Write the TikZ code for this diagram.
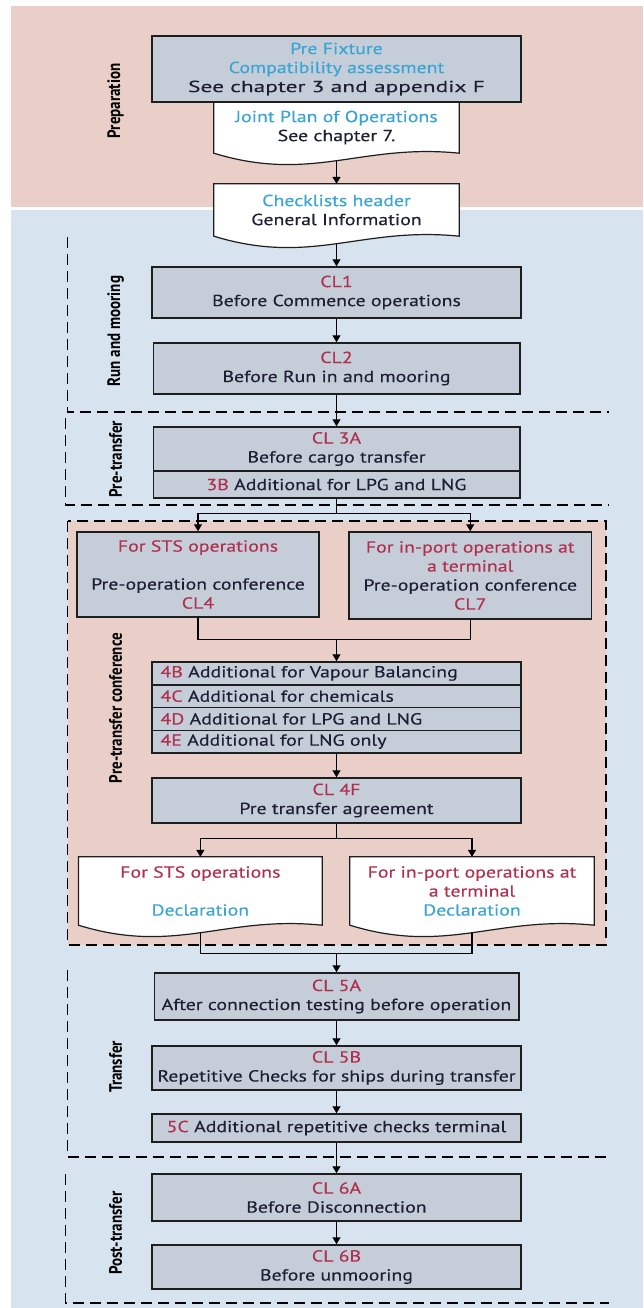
\documentclass[tikz,border=0pt]{standalone}
\usepackage{fontspec}
\usepackage{graphicx}
\setmainfont{PT Sans}[FakeStretch=1.24, FakeBold=0.3]
\newfontfamily\sidefont{PT Sans}
\usetikzlibrary{arrows.meta,calc}

\definecolor{pinkbg}{HTML}{E9CFC7}
\definecolor{bluebg}{HTML}{D7E3EE}
\definecolor{boxfill}{HTML}{C5CED8}
\definecolor{cyantxt}{HTML}{3AA5D5}
\definecolor{redtxt}{HTML}{B0304E}
\definecolor{darktxt}{HTML}{1E1E34}
\definecolor{edge}{HTML}{1E1E1E}

\newcommand\rd[1]{\textcolor{redtxt}{#1}}
\newcommand\cy[1]{\textcolor{cyantxt}{#1}}
\newcommand\sidetext[1]{\scalebox{1}[1.2]{#1}}

\pgfdeclarelayer{bg}
\pgfdeclarelayer{docs}
\pgfsetlayers{bg,docs,main}

% outline of a document symbol with a wavy lower edge around a node
\newcommand\docoutline[1]{%
  \path[docline] (#1.north west) -- (#1.north east) -- (#1.south east)
    .. controls ($(#1.south east)!0.4!(#1.south west)+(0,-10)$)
           and ($(#1.south west)!0.4!(#1.south east)+(0,30)$) .. (#1.south west) -- cycle;}

\tikzset{
  txt/.style={font=\fontsize{16}{19}\selectfont, text=darktxt},
  stepbox/.style={txt, draw=edge, line width=1.5pt, fill=boxfill, inner sep=0pt, align=center},
  addrow/.style={txt, draw=edge, line width=1.5pt, fill=boxfill, inner xsep=8.5pt, inner ysep=0pt,
                 align=left, text width=352pt, minimum height=22.75pt},
  docbox/.style={txt, inner sep=0pt, align=center},
  docline/.style={draw=edge, line width=1.2pt, fill=white},
  link/.style={line width=1.3pt, draw=black},
  arr/.style={link, -{Triangle[length=7pt,width=8pt]}},
  zone/.style={line width=1.7pt, dash pattern=on 11pt off 6pt},
  side/.style={rotate=90, text=black, font=\sidefont\bfseries\fontsize{15}{17}\selectfont},
}

\begin{document}
\begin{tikzpicture}[x=1pt,y=-1pt]
\useasboundingbox (0,0) rectangle (643,1308);

% ---- steps
\node[stepbox, minimum width=369pt, minimum height=66pt] (pre) at (336.5,69)
  {\cy{Pre Fixture}\\\cy{Compatibility assessment}\\\scalebox{1.18}[1]{See chapter 3 and appendix F}};
\node[docbox, minimum width=245pt, minimum height=51pt] (jp) at (336.5,127.5)
  {\cy{Joint Plan of Operations}\\See chapter 7.};
\node[docbox, minimum width=245pt, minimum height=52pt] (hdr) at (336.5,210)
  {\cy{Checklists header}\\General Information};
\node[stepbox, minimum width=369pt, minimum height=51pt] (cl1) at (336.5,292.5)
  {\rd{CL1}\\Before Commence operations};
\node[stepbox, minimum width=366.5pt, minimum height=51pt] (cl2) at (336.5,368.5)
  {\rd{CL2}\\Before Run in and mooring};
\node[stepbox, minimum width=366.5pt, minimum height=44pt] (cl3a) at (336.5,449)
  {\rd{CL 3A}\\Before cargo transfer};
\node[stepbox, minimum width=366.5pt, minimum height=27pt] (cl3b) at (336.5,484.5)
  {\rd{3B} Additional for LPG and LNG};

\node[stepbox, minimum width=242pt, minimum height=85pt] (sts) at (198,574.5)
  {\rd{For STS operations}\\\mbox{}\\Pre-operation conference\\\rd{CL4}};
\node[stepbox, minimum width=242.5pt, minimum height=87pt] (port) at (470.25,575.5)
  {\rd{For in-port operations at}\\\rd{a terminal}\\Pre-operation conference\\\rd{CL7}};

\node[addrow] (a4b) at (336.5,673.375) {\rd{4B} Additional for Vapour Balancing};
\node[addrow] (a4c) at (336.5,696.125) {\rd{4C} Additional for chemicals};
\node[addrow] (a4d) at (336.5,718.875) {\rd{4D} Additional for LPG and LNG};
\node[addrow] (a4e) at (336.5,741.625) {\rd{4E} Additional for LNG only};

\node[stepbox, minimum width=369pt, minimum height=45pt] (cl4f) at (336.5,800.5)
  {\rd{CL 4F}\\Pre transfer agreement};

\node[docbox, minimum width=243.3pt, minimum height=68pt] (dsts) at (200.35,891)
  {\rd{For STS operations}\\\mbox{}\\\cy{Declaration}};
\node[docbox, minimum width=244pt, minimum height=68pt] (dport) at (472,891)
  {\rd{For in-port operations at}\\\rd{a terminal}\\\cy{Declaration}};

\node[stepbox, minimum width=364.5pt, minimum height=47pt] (cl5a) at (336.5,996.5)
  {\rd{CL 5A}\\After connection testing before operation};
\node[stepbox, minimum width=369pt, minimum height=44pt] (cl5b) at (336.5,1068)
  {\rd{CL 5B}\\Repetitive Checks for ships during transfer};
\node[stepbox, minimum width=369pt, minimum height=28pt] (c5c) at (336.5,1128)
  {\rd{5C} Additional repetitive checks terminal};
\node[stepbox, minimum width=369pt, minimum height=47pt] (cl6a) at (336.5,1197.5)
  {\rd{CL 6A}\\Before Disconnection};
\node[stepbox, minimum width=369pt, minimum height=44pt] (cl6b) at (336.5,1267)
  {\rd{CL 6B}\\Before unmooring};

% ---- phase labels
\node[side] (lprep) at (115.6,101)  {\sidetext{Preparation}};
\node[side] (lrun)  at (115.6,331)  {\sidetext{Run and mooring}};
\node[side] (lpre)  at (115.6,459)  {\sidetext{Pre-transfer}};
\node[side] (lconf) at (115.6,708)  {\sidetext{Pre-transfer conference}};
\node[side] (ltr)   at (115.6,1067) {\sidetext{Transfer}};
\node[side] (lpost) at (115.6,1233) {\sidetext{Post-transfer}};

% ---- document symbols
\begin{pgfonlayer}{docs}
  \docoutline{jp}
  \docoutline{hdr}
  \docoutline{dsts}
  \docoutline{dport}
\end{pgfonlayer}

% ---- backgrounds and phase borders
\begin{pgfonlayer}{bg}
  \fill[pinkbg] (11,6) rectangle (643,207);
  \fill[bluebg] (11,210) rectangle (643,1308);
  \draw[zone, fill=pinkbg] (67.6,521) rectangle (606,945);
  \draw[zone] (67.6,237) -- (67.6,412) -- (609,412);
  \draw[zone] (65.6,418) -- (65.6,505) -- (609,505);
  \draw[zone] (67.6,970) -- (67.6,1157) -- (609,1157);
  \draw[zone] (65.6,1174) -- (65.6,1303) -- (609,1303);
\end{pgfonlayer}

% ---- connectors
\draw[arr] ([yshift=-7.5pt]jp.south) -- (hdr.north);
\draw[arr] ([yshift=-7.5pt]hdr.south) -- (cl1.north);
\draw[arr] (cl1.south) -- (cl2.north);
\draw[arr] (cl2.south) -- (cl3a.north);
\draw[arr] (cl3b.south) -- ++(0,15) -| (sts.north);
\draw[arr] (cl3b.south) -- ++(0,15) -| (port.north);
\coordinate (m1) at ($(a4b.north)+(0,-22)$);
\draw[link] (sts.south) |- (m1) -| (port.south);
\draw[arr] (m1) -- (a4b.north);
\draw[arr] (a4e.south) -- (cl4f.north);
\draw[arr] (cl4f.south) -- ++(0,15) -| (dsts.north);
\draw[arr] (cl4f.south) -- ++(0,15) -| (dport.north);
\coordinate (m2) at ($(cl5a.north)+(0,-19)$);
\draw[link] ([yshift=-7.5pt]dsts.south) |- (m2) -| ([yshift=-7.5pt]dport.south);
\draw[arr] (m2) -- (cl5a.north);
\draw[arr] (cl5a.south) -- (cl5b.north);
\draw[arr] (cl5b.south) -- (c5c.north);
\draw[arr] (c5c.south) -- (cl6a.north);
\draw[arr] (cl6a.south) -- (cl6b.north);
\end{tikzpicture}
\end{document}
